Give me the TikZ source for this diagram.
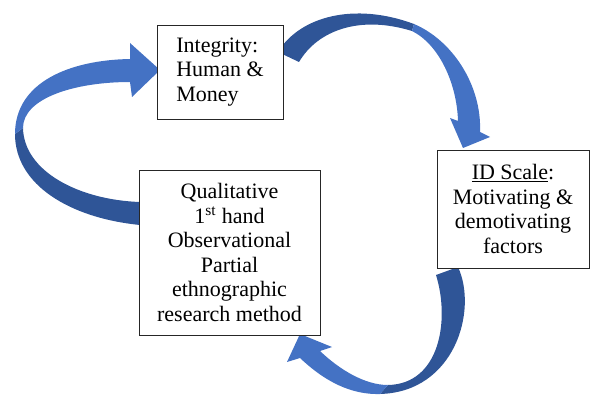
\documentclass[tikz,border=0pt]{standalone}
\usepackage{fontspec}
\setmainfont{Liberation Serif}

\definecolor{arrowlight}{HTML}{4472C4}
\definecolor{arrowdark}{HTML}{2F5597}

\begin{document}
\begin{tikzpicture}[x=1pt, y=-1pt,
    box/.style={draw=black!85, line width=0.9pt, fill=white, inner sep=0pt, outer sep=0pt,
      font=\fontsize{22}{24.5}\selectfont},
    tailpart/.style={fill=arrowdark},
    headpart/.style={fill=arrowlight}]

  \useasboundingbox (0,0) rectangle (590,396);

  % Curved arrow: method -> integrity
  \fill[tailpart] (140,225) .. controls (70,218) and (15,185) .. (15,134)
    -- (23,128) .. controls (24,172) and (80,200) .. (140,202) -- cycle;
  \fill[headpart] (15,134) .. controls (15,82) and (70,60) .. (130,59)
    -- (130,43) -- (160,70) -- (132,97) -- (130,82)
    .. controls (75,82) and (23,98) .. (23,128) -- cycle;

  % Curved arrow: integrity -> ID scale
  \fill[tailpart] (278,52) .. controls (300,16) and (355,2) .. (414,24)
    -- (412,31) .. controls (360,15) and (318,30) .. (299,62) -- cycle;
  \fill[headpart] (414,24) .. controls (452,40) and (482,85) .. (480,132)
    -- (490,137) -- (463,148) -- (450,118) -- (458,121)
    .. controls (457,85) and (440,45) .. (412,31) -- cycle;

  % Curved arrow: ID scale -> method
  \fill[tailpart] (458,267) .. controls (478,310) and (455,392) .. (380,394)
    -- (388,385) .. controls (440,384) and (450,320) .. (436,275) -- cycle;
  \fill[headpart] (380,394) .. controls (345,395) and (318,375) .. (300,358)
    -- (287,362) -- (300,334) -- (332,347) -- (320,351)
    .. controls (340,370) and (365,385) .. (388,385) -- cycle;

  % Boxes
  \node[box, minimum width=126, minimum height=94, align=left] (integrity) at (220,72)
    {Integrity:\\Human \&\\Money};
  \node[box, minimum width=152, minimum height=118, align=center] (idscale) at (513,209)
    {\underline{ID Scale}:\\Motivating \&\\demotivating\\factors};
  \node[box, minimum width=181, minimum height=165, align=center] (method) at (229.5,252.5)
    {Qualitative\\1\textsuperscript{st} hand\\Observational\\Partial\\ethnographic\\research method};

\end{tikzpicture}
\end{document}
